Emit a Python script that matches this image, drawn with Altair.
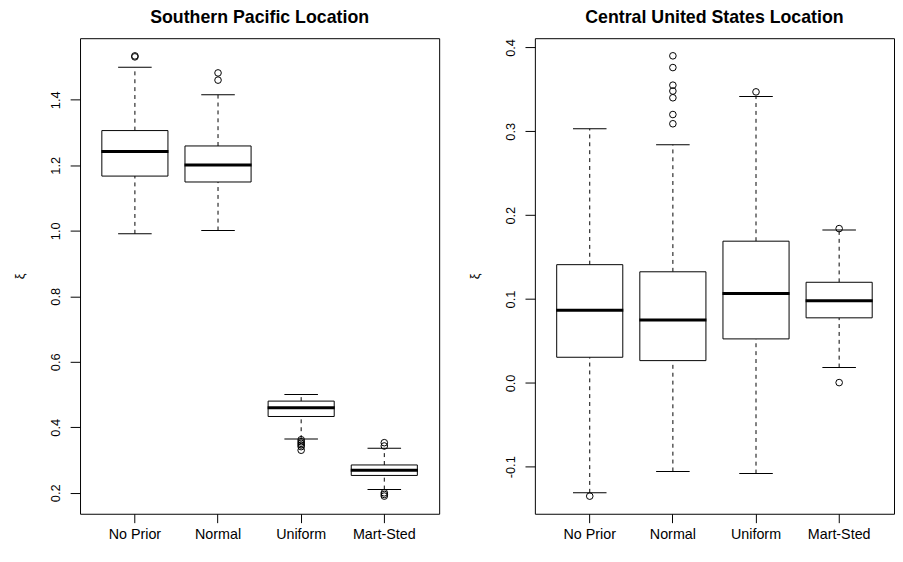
import altair as alt
import pandas as pd

categories = ["No Prior", "Normal", "Uniform", "Mart-Sted"]

# Southern Pacific Location (left panel)
sp_lower = [0.991, 1.001, 0.364, 0.210]
sp_q1 = [1.167, 1.149, 0.433, 0.253]
sp_median = [1.242, 1.201, 0.460, 0.269]
sp_q3 = [1.306, 1.259, 0.480, 0.285]
sp_upper = [1.499, 1.415, 0.500, 0.336]
sp_outlier_cat = ["No Prior", "No Prior", "Normal", "Normal",
                  "Uniform", "Uniform", "Uniform", "Uniform", "Uniform", "Uniform",
                  "Mart-Sted", "Mart-Sted", "Mart-Sted", "Mart-Sted", "Mart-Sted"]
sp_outlier_val = [1.534, 1.531, 1.482, 1.460,
                  0.362, 0.356, 0.351, 0.346, 0.341, 0.330,
                  0.353, 0.343, 0.200, 0.195, 0.190]
sp_ticks = [0.2, 0.4, 0.6, 0.8, 1.0, 1.2, 1.4]
sp_domain = [0.136, 1.588]

# Central United States Location (right panel)
cu_lower = [-0.131, -0.1055, -0.108, 0.0184]
cu_q1 = [0.0306, 0.0266, 0.0525, 0.0776]
cu_median = [0.0866, 0.0749, 0.1066, 0.098]
cu_q3 = [0.141, 0.1325, 0.169, 0.120]
cu_upper = [0.303, 0.284, 0.3415, 0.1824]
cu_outlier_cat = ["No Prior", "Normal", "Normal", "Normal", "Normal", "Normal",
                  "Normal", "Normal", "Uniform", "Mart-Sted", "Mart-Sted"]
cu_outlier_val = [-0.135, 0.390, 0.376, 0.355, 0.348, 0.340,
                  0.320, 0.309, 0.347, 0.184, 0.0004]
cu_ticks = [-0.1, 0.0, 0.1, 0.2, 0.3, 0.4]
cu_domain = [-0.156, 0.411]

FONT = "Liberation Sans"
W, H = 364, 482
BOX = 67
CAP = 34


def panel(title, lower, q1, med, q3, upper, ocat, oval, ticks, domain):
    stats = pd.DataFrame({"cat": categories, "lower": lower, "q1": q1,
                          "median": med, "q3": q3, "upper": upper})
    outs = pd.DataFrame({"cat": ocat, "value": oval})

    xenc = alt.X("cat:N", sort=categories,
                 scale=alt.Scale(paddingInner=0.2, paddingOuter=0.26),
                 axis=alt.Axis(title=None, labelAngle=0, domain=False, grid=False,
                               ticks=True, tickSize=9, tickColor="black",
                               labelPadding=5, labelFontSize=14.5, labelColor="black",
                               labelFont=FONT))
    yscale = alt.Scale(domain=domain, nice=False, zero=False)
    yaxis = alt.Axis(title="ξ", values=ticks, grid=False, domain=False,
                     tickSize=10, tickColor="black", labelAngle=270,
                     labelAlign="center", labelBaseline="bottom",
                     labelPadding=8, labelFontSize=13, labelColor="black",
                     labelFont=FONT,
                     labelExpr="datum.value < 0 ? '-' + format(-datum.value, '.1f') : format(datum.value, '.1f')",
                     titleAngle=270, titleFontSize=13, titleFont=FONT,
                     titleFontWeight="normal", titleColor="black", titlePadding=23)

    base = alt.Chart(stats).encode(x=xenc)

    whisk_hi = base.mark_rule(color="black", strokeWidth=1, strokeDash=[4, 4]).encode(
        y=alt.Y("q3:Q", scale=yscale, axis=yaxis), y2="upper:Q")
    whisk_lo = base.mark_rule(color="black", strokeWidth=1, strokeDash=[4, 4]).encode(
        y=alt.Y("lower:Q", scale=yscale), y2="q1:Q")
    cap_hi = base.mark_tick(color="black", thickness=1, size=CAP, orient="horizontal",
                            opacity=1).encode(y=alt.Y("upper:Q", scale=yscale))
    cap_lo = base.mark_tick(color="black", thickness=1, size=CAP, orient="horizontal",
                            opacity=1).encode(y=alt.Y("lower:Q", scale=yscale))
    box = base.mark_bar(fill="white", stroke="black", strokeWidth=1, width=BOX,
                        opacity=1).encode(y=alt.Y("q1:Q", scale=yscale), y2="q3:Q")
    med_tick = base.mark_tick(color="black", thickness=3, size=BOX + 1, orient="horizontal",
                              opacity=1).encode(y=alt.Y("median:Q", scale=yscale))
    pts = alt.Chart(outs).mark_point(shape="circle", filled=False, color="black",
                                     size=45, strokeWidth=1, opacity=1).encode(
        x=alt.X("cat:N", sort=categories), y=alt.Y("value:Q", scale=yscale))

    return alt.layer(whisk_hi, whisk_lo, cap_hi, cap_lo, box, med_tick, pts).properties(
        width=W, height=H,
        title=alt.TitleParams(title, font=FONT, fontSize=18, fontWeight="bold",
                              color="black", offset=11, anchor="middle"))


left = panel("Southern Pacific Location", sp_lower, sp_q1, sp_median, sp_q3, sp_upper,
             sp_outlier_cat, sp_outlier_val, sp_ticks, sp_domain)
right = panel("Central United States Location", cu_lower, cu_q1, cu_median, cu_q3, cu_upper,
              cu_outlier_cat, cu_outlier_val, cu_ticks, cu_domain)

chart = alt.hconcat(left, right, spacing=28).properties(
    padding={"left": 5, "top": -3, "right": 0, "bottom": -3}
).configure(
    background="white",
    view=alt.ViewConfig(stroke="black", strokeWidth=1),
)

chart.save("out.html", embed_options={"renderer": "svg", "actions": False})
